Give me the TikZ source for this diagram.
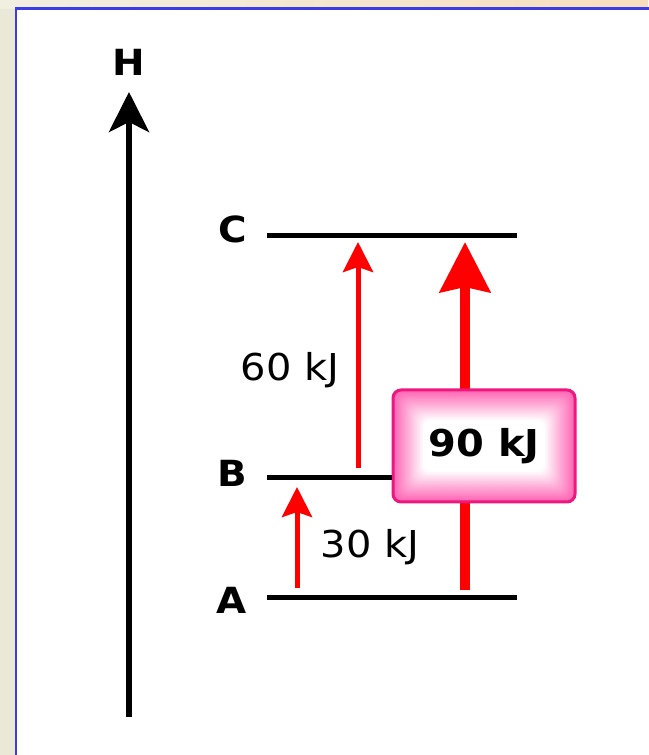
\documentclass[tikz,border=0pt]{standalone}
\usepackage{fontspec}
\setmainfont{DejaVu Sans}[FakeStretch=1.08]
\usetikzlibrary{arrows.meta,positioning}

\definecolor{framebeige}{RGB}{234,232,214}
\definecolor{framepeach}{RGB}{249,222,190}
\definecolor{panelblue}{RGB}{60,60,230}
\definecolor{boxpink}{RGB}{255,100,180}
\definecolor{boxline}{RGB}{236,24,125}

\begin{document}
\begin{tikzpicture}[x=1pt,y=1pt,>=Stealth,
  level/.style={line width=5pt},
  lab/.style={inner sep=0pt,font=\bfseries\fontsize{36}{42}\selectfont},
  val/.style={inner sep=0pt,font=\fontsize{37}{44}\selectfont},
  gain/.style={draw=red,line width=5pt,-{Stealth[length=30pt,width=30pt,inset=5pt]}},
  totalbox/.style={draw=boxline,line width=3pt,rounded corners=8pt,
    minimum width=182pt,minimum height=112pt,inner sep=0pt,
    font=\bfseries\fontsize{37}{44}\selectfont}]
\useasboundingbox (0,0) rectangle (648,755);

% window frame
\fill[framebeige] (0,0) rectangle (648,755);
\shade[left color=framebeige!70!white, right color=framepeach] (0,746) rectangle (648,755);
\fill[white] (16,0) rectangle (650,746.5);
\draw[panelblue,line width=2.6pt] (16,-2) -- (16,746.5) -- (650,746.5);

% enthalpy axis
\coordinate (Hbot) at (129,38);
\coordinate (Htip) at (129,663);
\node (H) [lab] at (129,693) {H};
\draw[line width=6pt,-{Stealth[length=40pt,width=40pt,inset=10pt]}] (Hbot) -- (Htip);

% levels
\coordinate (A) at (267,157);
\coordinate (Aend) at (517,157);
\coordinate (B) at (267,277);
\coordinate (C) at (267,519);
\coordinate (Cend) at (517,519);
\node (Alab) [lab, left=20pt of A, yshift=-2pt] {A};
\node (Blab) [lab, left=20pt of B, yshift=5pt] {B};
\node (Clab) [lab, left=20pt of C, yshift=7pt] {C};
\draw[level] (A) -- (Aend);
\draw[level] (C) -- (Cend);

% steps
\coordinate (s1) at (297,167);
\coordinate (e1) at (297,268);
\coordinate (s2) at (358,287);
\coordinate (e2) at (358,513);
\coordinate (s3) at (465,165);
\coordinate (e3) at (465,513);
\draw[gain] (s1) -- (e1);
\draw[gain] (s2) -- (e2);
\node (v1) [val] at (370,208) {30 kJ};
\node (v2) [val] at (290,385) {60 kJ};

% overall change
\draw[red,line width=10pt,-{Stealth[length=50pt,width=50pt,inset=5pt]}] (s3) -- (e3);
\coordinate (tc) at (484,309);
\foreach \i [evaluate=\i as \p using {int(max(0,100-5*\i))},
             evaluate=\i as \d using 1.5*\i] in {0,...,20}
  \fill[boxpink!\p!white,rounded corners=8pt] (tc) +({-91+\d},{-56+\d}) rectangle +({91-\d},{56-\d});
\node (total) [totalbox] at (tc) {90 kJ};
\draw[level] (B) -- (B -| total.west);
\end{tikzpicture}
\end{document}
